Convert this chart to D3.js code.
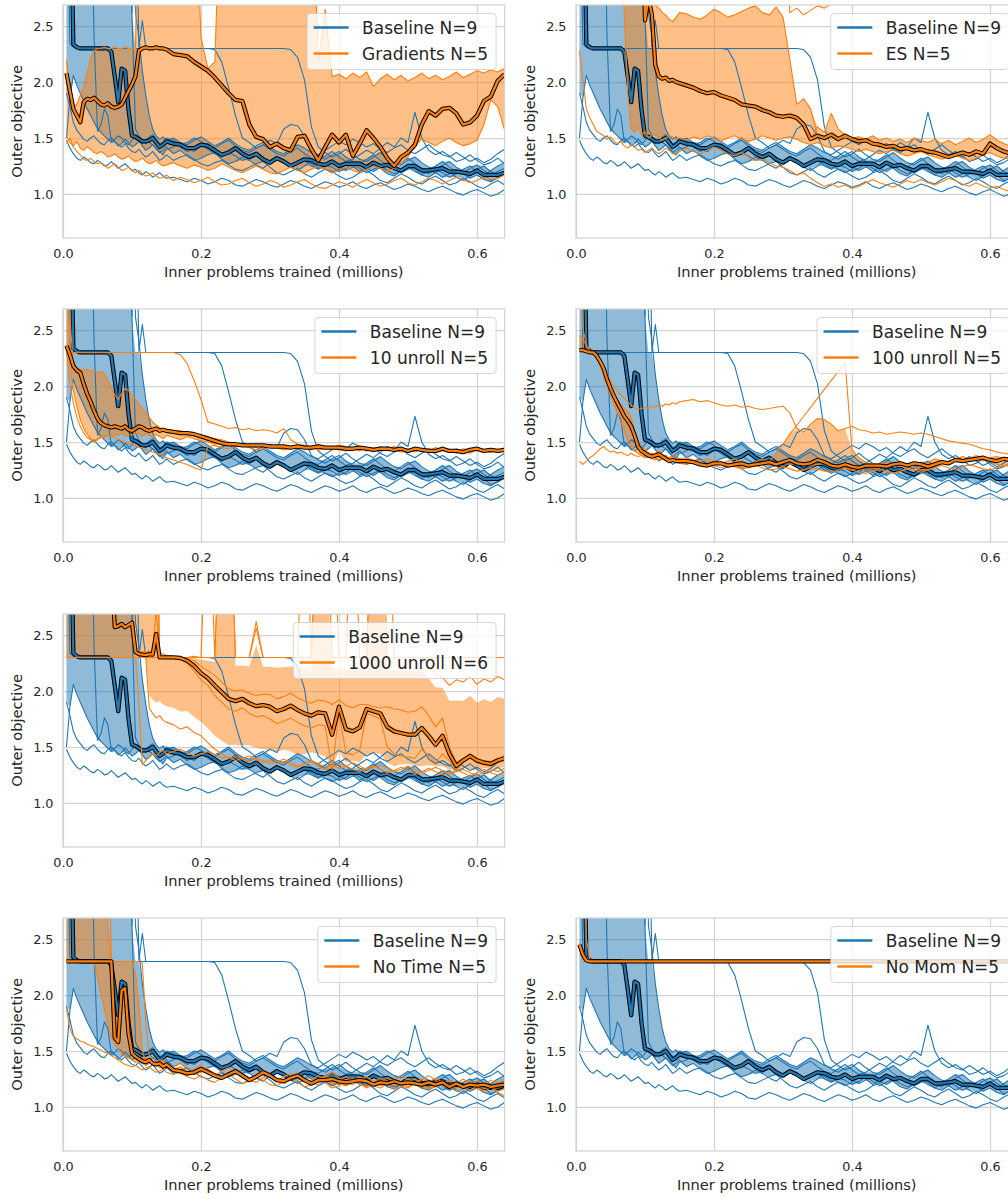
<!DOCTYPE html>
<html>
<head>
<meta charset="utf-8">
<script src="https://cdn.jsdelivr.net/npm/d3@7"></script>
<style>
  body { margin: 0; background: #fff; }
  svg text { font-family: "DejaVu Sans", sans-serif; }
</style>
</head>
<body>
<div id="chart"></div>
<script>
// sample positions, inner problems trained (millions)
const steps = [
  0.005,0.01,0.015,0.02,0.025,0.03,0.035,0.04,0.045,0.05,
  0.055,0.06,0.065,0.07,0.075,0.08,0.085,0.09,0.095,0.1,
  0.105,0.11,0.115,0.12,0.125,0.13,0.135,0.14,0.145,0.15,
  0.16,0.17,0.18,0.19,0.2,
  0.21,0.22,0.23,0.24,0.25,0.26,0.27,0.28,0.29,0.3,
  0.31,0.32,0.33,0.34,0.35,0.36,0.37,0.38,0.39,0.4,
  0.41,0.42,0.43,0.44,0.45,0.46,0.47,0.48,0.49,0.5,
  0.51,0.52,0.53,0.54,0.55,0.56,0.57,0.58,0.59,0.6,
  0.61,0.62,0.63,0.64
];

// outer objective per run (values of 4 are off the top of the plot)
const baseline = [
  [1.90,1.78,1.64,1.57,1.53,1.49,1.47,1.50,1.52,1.48,
   1.45,1.44,1.48,1.50,1.47,1.43,1.45,1.49,1.46,1.42,
   1.44,1.47,1.43,1.39,1.41,1.44,1.40,1.37,1.39,1.42,
   1.36,1.39,1.34,1.30,1.32,
   1.35,1.37,1.31,1.27,1.29,1.33,1.30,1.26,1.23,1.28,
   1.31,1.29,1.24,1.21,1.25,1.30,1.27,1.22,1.19,1.22,
   1.27,1.25,1.20,1.24,1.28,1.23,1.18,1.16,1.21,1.25,
   1.22,1.17,1.15,1.19,1.23,1.20,1.15,1.12,1.16,1.21,
   1.17,1.12,1.14,1.18],
  [1.48,1.41,1.36,1.32,1.30,1.33,1.31,1.28,1.27,1.30,
   1.28,1.25,1.26,1.29,1.26,1.23,1.25,1.27,1.24,1.21,
   1.22,1.19,1.17,1.20,1.18,1.15,1.17,1.19,1.16,1.14,
   1.15,1.13,1.11,1.14,1.12,
   1.09,1.11,1.14,1.12,1.08,1.07,1.10,1.13,1.11,1.08,
   1.06,1.09,1.12,1.10,1.07,1.05,1.08,1.11,1.09,1.06,
   1.08,1.11,1.07,1.05,1.08,1.10,1.07,1.04,1.06,1.09,
   1.07,1.04,1.02,1.05,1.07,1.04,1.01,0.99,1.02,1.04,
   1.01,0.98,1.00,1.04],
  [1.50,1.86,2.06,1.97,1.90,1.83,1.76,1.70,1.64,1.59,
   1.55,1.52,1.49,1.46,1.47,1.44,1.42,1.45,1.41,1.38,
   1.37,1.40,1.36,1.33,1.35,1.38,1.34,1.30,1.32,1.35,
   1.30,1.33,1.35,1.31,1.27,
   1.25,1.28,1.30,1.26,1.22,1.21,1.24,1.27,1.29,1.24,
   1.19,1.17,1.20,1.23,1.18,1.15,1.19,1.22,1.20,1.16,
   1.13,1.15,1.19,1.21,1.17,1.12,1.10,1.14,1.18,1.15,
   1.11,1.09,1.13,1.16,1.12,1.08,1.10,1.14,1.11,1.07,
   1.05,1.09,1.12,1.08],
  [4,2.34,2.31,2.30,2.30,2.30,2.30,2.30,2.30,2.30,
   2.30,2.30,2.30,2.30,2.30,2.30,2.30,2.30,2.30,2.30,
   2.30,2.30,2.30,2.30,2.30,2.30,2.30,2.30,2.30,2.30,
   2.30,2.30,2.30,2.30,2.30,
   2.30,2.29,2.18,1.95,1.70,1.50,1.46,1.41,1.44,1.48,
   1.45,1.58,1.62,1.61,1.52,1.38,1.34,1.31,1.35,1.38,
   1.33,1.29,1.27,1.31,1.35,1.30,1.26,1.24,1.28,1.32,
   1.27,1.23,1.21,1.25,1.29,1.24,1.20,1.19,1.23,1.26,
   1.21,1.17,1.20,1.23],
  [4,4,4,4,4,4,4,4,4,4,
   4,4,4,4,4,4,4,4,4,2.62,
   4,2.31,2.55,2.30,2.30,2.30,2.30,2.30,2.30,2.30,
   2.30,2.30,2.30,2.30,2.30,
   2.30,2.30,2.30,2.30,2.30,2.30,2.30,2.30,2.30,2.30,
   2.30,2.30,2.29,2.22,2.02,1.60,1.42,1.37,1.33,1.36,
   1.40,1.35,1.31,1.29,1.33,1.37,1.32,1.28,1.26,1.30,
   1.33,1.28,1.24,1.22,1.26,1.29,1.24,1.20,1.18,1.22,
   1.25,1.20,1.17,1.19],
  [4,4,2.34,2.31,2.30,2.30,2.30,2.30,2.30,2.30,
   2.30,2.30,2.30,2.27,2.05,1.82,2.12,2.10,1.75,1.52,
   1.49,1.48,1.47,1.48,1.46,1.44,1.41,1.38,1.35,1.40,
   1.42,1.46,1.41,1.38,1.43,
   1.45,1.39,1.35,1.37,1.41,1.36,1.31,1.34,1.30,1.27,
   1.31,1.28,1.24,1.27,1.30,1.25,1.22,1.26,1.24,1.20,
   1.23,1.27,1.23,1.19,1.22,1.25,1.21,1.18,1.21,1.24,
   1.20,1.17,1.21,1.19,1.15,1.18,1.22,1.18,1.14,1.17,
   1.13,1.11,1.15,1.18],
  [4,4,4,4,4,4,4,4,2.40,1.56,
   1.62,1.76,1.70,1.47,1.49,1.52,1.50,1.46,1.44,1.48,
   1.51,1.49,1.45,1.47,1.51,1.53,1.49,1.45,1.46,1.50,
   1.48,1.44,1.46,1.50,1.47,
   1.43,1.41,1.45,1.48,1.43,1.39,1.37,1.41,1.44,1.40,
   1.36,1.34,1.38,1.41,1.36,1.32,1.30,1.34,1.38,1.33,
   1.29,1.31,1.35,1.39,1.36,1.41,1.46,1.42,1.50,1.46,
   1.73,1.50,1.39,1.35,1.38,1.34,1.29,1.31,1.35,1.30,
   1.26,1.28,1.32,1.27],
  [4,4,4,4,4,4,4,4,4,4,
   4,4,4,4,4,4,4,4,4,2.60,
   1.58,1.52,1.47,1.45,1.48,1.50,1.46,1.42,1.44,1.47,
   1.45,1.42,1.38,1.41,1.44,
   1.40,1.36,1.33,1.37,1.34,1.30,1.33,1.36,1.31,1.28,
   1.32,1.29,1.25,1.28,1.31,1.27,1.23,1.26,1.29,1.25,
   1.21,1.24,1.27,1.23,1.20,1.24,1.27,1.23,1.19,1.22,
   1.25,1.21,1.18,1.22,1.19,1.15,1.18,1.22,1.25,1.20,
   1.17,1.21,1.25,1.28],
  [4,4,4,4,4,4,4,4,4,4,
   4,4,4,4,4,4,4,4,4,4,
   2.62,2.40,2.10,1.88,1.70,1.58,1.52,1.49,1.51,1.47,
   1.50,1.46,1.44,1.48,1.51,
   1.47,1.43,1.46,1.50,1.45,1.41,1.39,1.43,1.46,1.42,
   1.38,1.36,1.40,1.44,1.41,1.37,1.35,1.39,1.43,1.47,
   1.44,1.49,1.46,1.42,1.45,1.40,1.37,1.41,1.44,1.39,
   1.36,1.40,1.44,1.39,1.35,1.33,1.37,1.33,1.29,1.32,
   1.28,1.31,1.36,1.40]
];

const gradients = [
  [1.45,1.50,1.42,1.38,1.35,1.31,1.30,1.32,1.29,1.27,
   1.28,1.26,1.23,1.25,1.27,1.24,1.21,1.22,1.24,1.21,
   1.19,1.21,1.18,1.16,1.17,1.19,1.16,1.14,1.15,1.17,
   1.12,1.15,1.13,1.10,1.12,
   1.15,1.11,1.08,1.09,1.12,1.14,1.10,1.07,1.09,1.12,
   1.10,1.06,1.08,1.11,1.13,1.09,1.06,1.05,1.08,1.11,
   1.09,1.06,1.10,1.13,1.10,1.07,1.09,1.12,1.14,1.10,
   1.08,1.11,1.14,1.12,1.09,1.12,1.15,1.13,1.10,1.12,
   1.15,1.13,1.14,1.17],
  [1.52,1.46,1.43,1.47,1.41,1.39,1.42,1.40,1.37,1.36,
   1.38,1.36,1.33,1.34,1.36,1.33,1.31,1.32,1.34,1.31,
   1.29,1.30,1.32,1.29,1.27,1.28,1.30,1.27,1.25,1.26,
   1.28,1.25,1.23,1.26,1.24,
   1.21,1.23,1.27,1.24,1.21,1.19,1.22,1.25,1.22,1.19,
   1.18,1.21,1.24,1.21,1.19,1.22,1.25,1.22,1.19,1.21,
   1.24,1.21,1.19,1.22,1.25,1.23,1.20,1.23,1.28,1.33,
   1.44,1.49,1.46,1.43,1.47,1.50,1.46,1.43,1.45,1.48,
   1.62,1.84,1.78,1.57],
  [2.08,1.98,1.80,1.70,1.64,1.82,1.85,1.84,1.86,1.83,
   1.80,1.79,1.81,1.78,1.77,1.78,1.80,1.86,1.92,1.98,
   2.05,2.28,2.30,2.31,2.30,2.30,2.31,2.30,2.30,2.29,
   2.25,2.24,2.23,2.18,2.14,
   2.10,2.04,1.97,1.90,1.84,1.83,1.62,1.51,1.49,1.42,
   1.45,1.41,1.39,1.51,1.52,1.40,1.30,1.42,1.53,1.46,
   1.53,1.34,1.45,1.57,1.50,1.42,1.32,1.25,1.33,1.37,
   1.41,1.62,1.74,1.70,1.76,1.77,1.72,1.62,1.64,1.70,
   1.83,1.87,2.01,2.07],
  [2.20,1.92,1.76,1.80,1.88,1.95,2.08,2.20,2.28,2.30,
   2.30,2.31,2.30,2.30,2.31,2.30,2.30,2.31,2.30,2.30,
   2.30,4,4,4,4,4,4,4,4,4,
   4,4,4,4,2.40,
   2.12,2.18,4,4,4,4,4,4,4,4,
   4,4,4,4,4,4,2.18,2.65,2.05,2.07,
   2.03,2.08,2.04,2.09,1.96,2.03,2.07,2.02,2.06,2.01,
   2.04,2.08,2.03,2.06,2.02,2.05,2.09,2.04,2.07,2.10,
   2.08,2.11,2.09,2.12],
  [4,4,4,4,4,4,4,4,4,4,
   4,4,4,4,4,4,4,4,4,4,
   4,4,4,4,4,4,4,4,4,4,
   4,4,4,4,4,
   4,4,4,4,4,4,4,4,4,4,
   4,4,4,4,4,4,4,4,4,4,
   4,4,4,4,4,4,4,4,4,4,
   4,4,4,4,4,4,4,4,4,4,
   4,4,4,4]
];

const esRuns = [
  [2.28,2.02,1.76,1.68,1.62,1.56,1.54,1.52,1.49,1.51,
   1.47,1.45,1.47,1.43,1.41,1.44,1.42,1.39,1.40,1.37,
   1.39,1.41,1.38,1.36,1.38,1.41,1.39,1.36,1.35,1.38,
   1.41,1.38,1.36,1.39,1.42,
   1.39,1.36,1.34,1.37,1.33,1.30,1.31,1.28,1.25,1.24,
   1.21,1.17,1.19,1.14,1.10,1.07,1.09,1.06,1.08,1.05,
   1.07,1.10,1.13,1.10,1.08,1.06,1.09,1.12,1.10,1.13,
   1.10,1.08,1.11,1.14,1.12,1.09,1.07,1.10,1.07,1.05,
   1.07,1.04,1.02,1.03],
  [4,4,4,4,4,4,4,4,4,4,
   4,4,4,2.60,1.90,1.58,1.55,1.60,1.52,1.56,
   1.50,1.52,1.53,1.50,1.48,1.50,1.52,1.51,1.49,1.50,
   1.48,1.51,1.49,1.52,1.50,
   1.47,1.50,1.52,1.49,1.47,1.49,1.52,1.50,1.48,1.50,
   1.51,1.49,1.46,1.44,1.46,1.43,1.41,1.43,1.42,1.40,
   1.38,1.40,1.38,1.36,1.38,1.39,1.36,1.34,1.36,1.38,
   1.35,1.33,1.31,1.33,1.35,1.32,1.30,1.32,1.35,1.37,
   1.34,1.32,1.31,1.34],
  [4,4,4,4,4,4,4,4,4,4,
   4,4,4,4,4,4,4,4,4,2.55,
   2.75,2.60,2.15,2.05,2.03,2.04,2.01,2.02,2.00,1.99,
   1.97,1.95,1.92,1.90,1.91,
   1.88,1.86,1.84,1.80,1.79,1.78,1.75,1.73,1.70,1.69,
   1.70,1.68,1.62,1.49,1.60,1.55,1.72,1.58,1.53,1.49,
   1.47,1.48,1.45,1.44,1.42,1.43,1.40,1.41,1.39,1.40,
   1.38,1.37,1.35,1.33,1.34,1.37,1.35,1.38,1.36,1.45,
   1.41,1.38,1.36,1.35],
  [4,4,4,4,4,4,4,4,4,4,
   4,4,4,4,4,4,4,4,4,4,
   4,4,2.69,2.66,2.62,2.60,2.56,2.54,2.58,2.62,
   2.61,2.58,2.56,2.60,2.65,
   2.62,2.58,2.60,2.63,2.66,2.68,2.62,2.60,2.67,2.58,
   2.20,1.80,1.85,1.76,1.52,1.50,1.53,1.49,1.52,1.50,
   1.51,1.49,1.52,1.48,1.50,1.47,1.49,1.46,1.50,1.48,
   1.46,1.49,1.45,1.48,1.44,1.47,1.50,1.46,1.49,1.53,
   1.48,1.45,1.43,1.41],
  [4,4,4,4,4,4,4,4,4,4,
   4,4,4,4,4,4,4,4,4,4,
   4,4,4,4,4,4,4,4,4,4,
   4,4,4,4,4,
   4,4,4,4,4,4,4,4,4,4,
   2.62,2.66,2.60,2.64,2.68,2.66,2.70,4,4,4,
   4,4,4,4,4,4,4,4,4,4,
   4,4,4,4,4,4,4,4,4,4,
   4,4,4,4]
];

const unroll10 = [
  [2.30,2.18,1.96,1.82,1.70,1.62,1.57,1.53,1.50,1.52,
   1.54,1.55,1.56,1.55,1.54,1.52,1.51,1.50,1.49,1.47,
   1.47,1.45,1.45,1.43,1.42,1.41,1.40,1.39,1.38,1.36,
   1.34,1.32,1.30,1.27,1.25,
   1.46,1.47,1.45,1.44,1.46,1.47,1.45,1.43,1.44,1.46,
   1.45,1.43,1.44,1.46,1.47,1.45,1.43,1.44,1.45,1.43,
   1.42,1.44,1.46,1.44,1.42,1.43,1.45,1.43,1.41,1.42,
   1.44,1.43,1.41,1.42,1.44,1.42,1.40,1.41,1.43,1.44,
   1.42,1.41,1.43,1.42],
  [2.33,2.02,1.85,1.72,1.64,1.58,1.54,1.52,1.50,1.53,
   1.55,1.54,1.56,1.55,1.57,1.56,1.58,1.55,1.57,1.56,
   1.58,1.57,1.55,1.58,1.56,1.54,1.57,1.55,1.53,1.56,
   1.54,1.52,1.55,1.53,1.51,
   1.50,1.48,1.49,1.47,1.48,1.46,1.47,1.45,1.48,1.46,
   1.45,1.47,1.44,1.46,1.45,1.43,1.46,1.44,1.45,1.43,
   1.46,1.44,1.42,1.45,1.43,1.46,1.44,1.42,1.45,1.43,
   1.41,1.44,1.42,1.45,1.43,1.41,1.44,1.42,1.40,1.43,
   1.41,1.44,1.42,1.43],
  [4,2.62,2.18,2.14,2.12,2.02,1.93,1.86,1.78,1.71,
   1.67,1.65,1.64,1.63,1.64,1.63,1.62,1.64,1.61,1.60,
   1.62,1.64,1.63,1.61,1.60,1.61,1.62,1.60,1.61,1.61,
   1.60,1.60,1.59,1.57,1.55,
   1.53,1.51,1.49,1.48,1.47,1.46,1.46,1.47,1.46,1.45,
   1.46,1.45,1.46,1.44,1.45,1.46,1.44,1.45,1.44,1.45,
   1.44,1.45,1.43,1.44,1.45,1.43,1.44,1.43,1.44,1.42,
   1.43,1.44,1.42,1.43,1.42,1.43,1.42,1.41,1.43,1.42,
   1.42,1.43,1.41,1.42],
  [2.36,2.28,2.20,2.16,2.15,2.14,2.15,2.13,2.14,2.12,
   2.13,2.11,2.05,1.98,1.92,1.88,1.93,1.98,1.96,1.92,
   1.88,1.84,1.80,1.76,1.72,1.68,1.65,1.63,1.61,1.60,
   1.59,1.58,1.58,1.57,1.56,
   1.55,1.53,1.52,1.50,1.49,1.48,1.47,1.48,1.47,1.46,
   1.47,1.46,1.45,1.47,1.45,1.44,1.46,1.45,1.43,1.46,
   1.44,1.43,1.45,1.44,1.42,1.44,1.43,1.45,1.43,1.42,
   1.44,1.42,1.43,1.41,1.44,1.42,1.43,1.41,1.42,1.44,
   1.42,1.41,1.43,1.44],
  [4,2.31,2.30,2.30,2.30,2.30,2.30,2.30,2.30,2.30,
   2.30,2.30,2.30,2.30,2.30,2.30,2.30,2.30,2.30,2.30,
   2.30,2.30,2.30,2.30,2.30,2.30,2.30,2.30,2.30,2.30,
   2.30,2.28,2.20,2.05,1.88,
   1.68,1.66,1.64,1.62,1.63,1.61,1.62,1.60,1.61,1.60,
   1.58,1.62,1.52,1.48,1.47,1.46,1.48,1.46,1.45,1.47,
   1.46,1.44,1.46,1.45,1.43,1.45,1.44,1.46,1.44,1.43,
   1.45,1.43,1.44,1.42,1.45,1.43,1.42,1.44,1.43,1.45,
   1.43,1.44,1.42,1.45]
];

const unroll100 = [
  [1.33,1.30,1.33,1.36,1.38,1.41,1.44,1.46,1.43,1.41,
   1.42,1.40,1.41,1.39,1.38,1.40,1.38,1.37,1.38,1.36,
   1.37,1.35,1.34,1.36,1.35,1.33,1.32,1.34,1.33,1.31,
   1.30,1.32,1.30,1.28,1.29,
   1.27,1.29,1.28,1.26,1.27,1.29,1.27,1.25,1.26,1.28,
   1.26,1.24,1.25,1.27,1.26,1.24,1.23,1.25,1.27,1.25,
   1.23,1.22,1.24,1.26,1.24,1.22,1.24,1.26,1.25,1.23,
   1.25,1.27,1.29,1.27,1.25,1.28,1.30,1.28,1.26,1.25,
   1.27,1.29,1.28,1.29],
  [2.32,2.31,2.30,2.30,2.30,2.29,2.24,2.16,2.06,1.98,
   1.92,1.87,1.83,1.80,1.77,1.72,1.60,1.50,1.45,1.43,
   1.41,1.39,1.40,1.42,1.39,1.37,1.36,1.38,1.37,1.35,
   1.36,1.34,1.33,1.35,1.33,
   1.31,1.33,1.35,1.32,1.30,1.32,1.35,1.33,1.30,1.32,
   1.34,1.31,1.29,1.31,1.34,1.32,1.29,1.28,1.30,1.28,
   1.27,1.29,1.31,1.29,1.27,1.29,1.31,1.30,1.32,1.30,
   1.32,1.35,1.33,1.31,1.34,1.37,1.35,1.38,1.36,1.34,
   1.33,1.36,1.34,1.35],
  [2.32,2.32,2.31,2.31,2.30,2.28,2.24,2.17,2.08,2.00,
   1.91,1.85,1.79,1.73,1.69,1.64,1.56,1.46,1.42,1.40,
   1.38,1.37,1.38,1.39,1.37,1.35,1.33,1.34,1.32,1.31,
   1.33,1.31,1.30,1.29,1.30,
   1.31,1.29,1.30,1.31,1.29,1.30,1.31,1.29,1.30,1.31,
   1.30,1.31,1.30,1.29,1.30,1.31,1.29,1.28,1.27,1.25,
   1.26,1.25,1.26,1.27,1.28,1.30,1.31,1.29,1.27,1.25,
   1.26,1.28,1.31,1.33,1.34,1.33,1.34,1.35,1.36,1.33,
   1.30,1.29,1.30,1.31],
  [4,2.52,2.36,2.30,2.29,2.27,2.22,2.16,2.10,2.05,
   2.00,1.96,1.92,1.89,1.86,1.83,1.80,1.79,1.80,1.81,
   1.80,1.82,1.81,1.83,1.82,1.84,1.83,1.85,1.84,1.86,
   1.87,1.88,1.86,1.87,1.85,
   1.83,1.82,1.83,1.81,1.82,1.80,1.79,1.80,1.81,1.82,
   1.76,1.62,1.59,1.66,1.71,1.70,1.66,1.60,1.62,1.64,
   1.61,1.60,1.58,1.59,1.57,1.58,1.59,1.58,1.57,1.58,
   1.57,1.55,1.53,1.51,1.50,1.49,1.48,1.46,1.44,1.43,
   1.41,1.40,1.39,1.38],
  [2.45,2.42,2.36,2.32,2.30,2.25,2.18,2.10,2.00,1.92,
   1.84,1.76,1.68,1.60,1.52,1.46,1.42,1.40,1.38,1.37,
   1.36,1.37,1.35,1.34,1.36,1.35,1.33,1.34,1.32,1.33,
   1.31,1.32,1.30,1.29,1.31,
   1.30,1.28,1.29,1.27,1.28,1.29,1.30,1.32,1.40,1.48,
   1.57,1.65,1.73,1.81,1.89,1.97,2.05,2.13,2.21,1.43,
   1.36,1.32,1.29,1.30,1.32,1.30,1.28,1.29,1.31,1.30,
   1.28,1.30,1.32,1.31,1.33,1.32,1.34,1.35,1.33,1.36,
   1.37,1.35,1.37,1.39]
];

const unroll1000 = [
  [2.30,2.30,2.30,2.30,2.30,2.30,2.30,2.30,2.30,2.30,
   2.30,2.30,2.30,2.30,2.30,2.30,2.30,2.30,2.30,2.30,
   2.30,1.90,1.34,1.38,1.41,1.44,1.42,1.45,1.47,1.44,
   1.46,1.48,1.45,1.42,1.44,
   1.46,1.43,1.40,1.41,1.38,1.40,1.42,1.39,1.36,1.38,
   1.35,1.37,1.34,1.32,1.35,1.37,1.33,1.30,1.32,1.35,
   1.33,1.30,1.28,1.31,1.33,1.30,1.27,1.29,1.32,1.29,
   1.26,1.28,1.31,1.28,1.25,1.27,1.30,1.27,1.24,1.27,
   1.30,1.27,1.25,1.28],
  [2.30,2.30,2.30,2.30,2.30,2.30,2.30,2.30,2.30,2.30,
   2.30,2.30,2.30,2.30,2.30,2.30,2.30,2.30,2.30,2.30,
   2.30,2.30,2.30,2.30,1.85,1.80,1.76,1.78,1.74,1.72,
   1.70,1.66,1.68,1.63,1.60,
   1.54,1.48,1.44,1.40,1.42,1.39,1.37,1.40,1.38,1.35,
   1.37,1.39,1.36,1.33,1.35,1.38,1.35,1.32,1.34,1.31,
   1.33,1.36,1.33,1.30,1.32,1.34,1.31,1.28,1.30,1.33,
   1.30,1.27,1.29,1.32,1.29,1.26,1.28,1.30,1.27,1.25,
   1.27,1.30,1.28,1.31],
  [4,4,4,4,4,4,4,4,4,4,
   4,4,4,4,2.84,2.86,2.90,2.84,2.88,2.92,
   2.40,2.36,2.35,2.34,2.36,2.35,2.72,2.34,2.33,2.32,
   2.31,2.29,2.25,2.18,2.10,
   2.05,1.96,1.90,1.84,1.82,1.85,1.80,1.77,1.78,1.75,
   1.71,1.73,1.76,1.72,1.69,1.67,1.70,1.69,1.30,1.80,
   1.45,1.43,1.47,1.80,1.78,1.75,1.50,1.44,1.42,1.41,
   1.40,1.48,1.42,1.36,1.44,1.38,1.30,1.36,1.40,1.36,
   1.34,1.33,1.36,1.38],
  [4,4,4,4,4,4,4,4,4,4,
   4,4,4,4,4,4,4,4,4,4,
   4,4,4,4,4,4,4,2.31,2.30,2.30,
   2.30,2.30,2.29,2.27,2.22,
   2.18,2.14,2.08,2.02,2.00,2.01,1.98,1.96,1.97,1.97,
   1.93,1.95,1.98,1.94,1.91,1.89,1.92,1.91,1.88,1.92,
   1.87,1.85,1.88,1.88,1.86,1.85,1.86,1.84,1.83,1.81,
   1.82,1.86,1.78,1.68,1.76,1.50,1.36,1.40,1.44,1.40,
   1.38,1.37,1.40,1.42],
  [2.30,2.30,2.30,2.30,2.30,2.30,2.30,2.30,2.30,2.30,
   2.30,2.30,2.30,2.30,2.30,2.30,2.30,2.30,2.30,2.30,
   2.30,2.30,2.30,2.30,2.30,2.30,2.30,2.30,2.30,2.30,
   2.30,2.30,2.30,2.30,2.30,
   2.30,2.30,4,4,2.30,2.30,2.30,2.56,2.30,2.30,
   2.30,2.30,2.30,2.30,2.30,2.30,4,4,2.30,2.30,
   2.30,2.30,2.30,2.30,4,4,2.30,2.30,2.30,2.30,
   2.30,2.30,2.30,2.30,2.30,2.30,2.30,2.30,2.30,2.30,
   2.30,2.30,2.30,2.30],
  [4,4,4,4,4,4,4,4,4,4,
   4,4,4,4,4,4,4,4,4,4,
   4,4,4,4,4,4,4,2.30,2.30,2.31,
   2.30,2.30,2.30,2.31,2.30,
   4,2.30,4,4,2.30,2.30,2.30,2.62,2.30,2.30,
   2.30,2.30,2.30,2.30,4,2.30,4,4,4,2.30,
   2.30,4,2.30,2.30,4,4,4,2.30,2.30,2.30,
   2.30,2.30,2.22,2.15,2.12,2.05,2.10,2.08,2.13,2.06,
   2.11,2.08,2.13,2.10]
];

const noTime = [
  [1.88,1.70,1.63,1.61,1.59,1.58,1.56,1.55,1.54,1.52,
   1.51,1.49,1.48,1.46,1.44,1.42,1.40,1.38,1.37,1.36,
   1.37,1.35,1.33,1.35,1.36,1.33,1.31,1.32,1.34,1.31,
   1.29,1.31,1.27,1.25,1.28,
   1.24,1.22,1.26,1.29,1.25,1.21,1.23,1.27,1.24,1.20,
   1.19,1.23,1.26,1.22,1.18,1.20,1.25,1.22,1.17,1.19,
   1.23,1.26,1.21,1.17,1.20,1.24,1.21,1.16,1.18,1.22,
   1.25,1.20,1.16,1.18,1.22,1.18,1.14,1.16,1.20,1.17,
   1.14,1.17,1.13,1.10],
  [2.30,2.30,2.30,2.30,2.30,2.30,2.30,2.30,2.30,2.16,
   2.02,1.88,1.74,1.62,1.56,1.52,1.48,1.46,1.44,1.42,
   1.40,1.42,1.39,1.37,1.39,1.41,1.38,1.35,1.36,1.38,
   1.33,1.36,1.32,1.29,1.31,
   1.34,1.30,1.26,1.28,1.32,1.28,1.24,1.27,1.31,1.27,
   1.23,1.21,1.25,1.29,1.25,1.21,1.20,1.24,1.27,1.23,
   1.19,1.22,1.26,1.23,1.19,1.17,1.21,1.25,1.28,1.24,
   1.20,1.18,1.22,1.26,1.22,1.18,1.21,1.25,1.21,1.17,
   1.20,1.24,1.21,1.25],
  [4,4,4,4,4,4,4,4,4,4,
   4,4,4,2.30,1.62,1.58,2.04,2.06,1.66,1.48,
   1.45,1.43,1.41,1.44,1.42,1.39,1.38,1.40,1.42,1.39,
   1.35,1.32,1.30,1.34,1.37,
   1.33,1.29,1.27,1.31,1.34,1.30,1.26,1.28,1.32,1.29,
   1.25,1.23,1.27,1.30,1.26,1.22,1.24,1.28,1.25,1.21,
   1.19,1.23,1.27,1.24,1.20,1.22,1.26,1.23,1.19,1.17,
   1.21,1.25,1.22,1.18,1.20,1.24,1.21,1.17,1.19,1.23,
   1.20,1.17,1.19,1.22],
  [4,4,4,4,4,4,4,4,4,4,
   4,4,2.60,2.31,2.30,2.30,2.30,2.30,2.30,2.30,
   2.30,2.30,2.28,1.75,1.46,1.43,1.41,1.42,1.40,1.38,
   1.36,1.39,1.35,1.32,1.34,
   1.31,1.28,1.32,1.35,1.30,1.27,1.25,1.29,1.33,1.28,
   1.24,1.27,1.30,1.26,1.22,1.24,1.28,1.24,1.20,1.23,
   1.27,1.23,1.20,1.18,1.22,1.26,1.22,1.19,1.21,1.25,
   1.21,1.18,1.16,1.20,1.24,1.20,1.17,1.19,1.23,1.20,
   1.16,1.19,1.22,1.20],
  [2.30,2.30,2.30,2.30,2.30,2.30,2.30,2.30,2.30,2.30,
   2.30,2.30,2.30,2.30,2.30,2.30,2.30,2.30,2.30,2.30,
   2.20,1.90,1.50,1.40,1.42,1.39,1.37,1.39,1.36,1.35,
   1.33,1.30,1.28,1.31,1.34,
   1.30,1.27,1.25,1.29,1.32,1.28,1.24,1.22,1.26,1.29,
   1.25,1.22,1.24,1.28,1.24,1.20,1.23,1.27,1.31,1.26,
   1.22,1.20,1.24,1.27,1.23,1.19,1.21,1.25,1.22,1.18,
   1.21,1.25,1.28,1.24,1.19,1.17,1.21,1.18,1.15,1.19,
   1.22,1.18,1.14,1.16]
];

const noMom = [
  [2.47,2.36,2.31,2.3,2.3,2.3,2.3,2.3,2.3,2.3,
   2.3,2.3,2.3,2.3,2.3,2.3,2.3,2.3,2.3,2.3,
   2.3,2.3,2.3,2.3,2.3,2.3,2.3,2.3,2.3,2.3,
   2.3,2.3,2.3,2.3,2.3,
   2.3,2.3,2.3,2.3,2.3,2.3,2.3,2.3,2.3,2.3,
   2.3,2.3,2.3,2.3,2.3,2.3,2.3,2.3,2.3,2.3,
   2.3,2.3,2.3,2.3,2.3,2.3,2.3,2.3,2.3,2.3,
   2.3,2.3,2.3,2.3,2.3,2.3,2.3,2.3,2.3,2.3,
   2.3,2.3,2.3,2.3],
  [2.44,2.40,2.32,2.3,2.3,2.3,2.3,2.3,2.3,2.3,
   2.3,2.3,2.3,2.3,2.3,2.3,2.3,2.3,2.3,2.3,
   2.3,2.3,2.3,2.3,2.3,2.3,2.3,2.3,2.3,2.3,
   2.3,2.3,2.3,2.3,2.3,
   2.3,2.3,2.3,2.3,2.3,2.3,2.3,2.3,2.3,2.3,
   2.3,2.3,2.3,2.3,2.3,2.3,2.3,2.3,2.3,2.3,
   2.3,2.3,2.3,2.3,2.3,2.3,2.3,2.3,2.3,2.3,
   2.3,2.3,2.3,2.3,2.3,2.3,2.3,2.3,2.3,2.3,
   2.3,2.3,2.3,2.3],
  [2.42,2.31,2.3,2.3,2.3,2.3,2.3,2.3,2.3,2.3,
   2.3,2.3,2.3,2.3,2.3,2.3,2.3,2.3,2.3,2.3,
   2.3,2.3,2.3,2.3,2.3,2.3,2.3,2.3,2.3,2.3,
   2.3,2.3,2.3,2.3,2.3,
   2.3,2.3,2.3,2.3,2.3,2.3,2.3,2.3,2.3,2.3,
   2.3,2.3,2.3,2.3,2.3,2.3,2.3,2.3,2.3,2.3,
   2.3,2.3,2.3,2.3,2.3,2.3,2.3,2.3,2.3,2.3,
   2.3,2.3,2.3,2.3,2.3,2.3,2.3,2.3,2.3,2.3,
   2.3,2.3,2.3,2.3],
  [4,4,2.50,2.32,2.3,2.3,2.3,2.3,2.3,2.3,
   2.3,2.3,2.3,2.3,2.3,2.3,2.3,2.3,2.3,2.3,
   2.3,2.3,2.3,2.3,2.3,2.3,2.3,2.3,2.3,2.3,
   2.3,2.3,2.3,2.3,2.3,
   2.3,2.3,2.3,2.3,2.3,2.3,2.3,2.3,2.3,2.3,
   2.3,2.3,2.3,2.3,2.3,2.3,2.3,2.3,2.3,2.3,
   2.3,2.3,2.3,2.3,2.3,2.3,2.3,2.3,2.3,2.3,
   2.3,2.3,2.3,2.3,2.3,2.3,2.3,2.3,2.3,2.3,
   2.3,2.3,2.3,2.3],
  [2.45,2.33,2.3,2.3,2.3,2.3,2.3,2.3,2.3,2.3,
   2.3,2.3,2.3,2.3,2.3,2.3,2.3,2.3,2.3,2.3,
   2.3,2.3,2.3,2.3,2.3,2.3,2.3,2.3,2.3,2.3,
   2.3,2.3,2.3,2.3,2.3,
   2.3,2.3,2.3,2.3,2.3,2.3,2.3,2.3,2.3,2.3,
   2.3,2.3,2.3,2.3,2.3,2.3,2.3,2.3,2.3,2.3,
   2.3,2.3,2.3,2.3,2.3,2.3,2.3,2.3,2.3,2.3,
   2.3,2.3,2.3,2.3,2.3,2.3,2.3,2.3,2.3,2.3,
   2.3,2.3,2.3,2.3]
];

const panelNames = ['Gradients', 'ES', '10 unroll', '100 unroll', '1000 unroll', 'No Time', 'No Mom'];
const panelRuns = [gradients, esRuns, unroll10, unroll100, unroll1000, noTime, noMom];
const panelCells = [[0, 0], [0, 1], [1, 0], [1, 1], [2, 0], [3, 0], [3, 1]]; // [row, col]
const xTicks = [0, 0.2, 0.4, 0.6];
const yTicks = [1.0, 1.5, 2.0, 2.5];

// layout
const W = 1008, H = 1199;
const colX = [63, 576];
const rowY = [5, 309, 614, 918];
const pw = 441.6, ph = 233;
const blue = '#1f77b4', orange = '#ff7f0e';
const gridColor = '#d3d3d3', textColor = '#262626';

const x = d3.scaleLinear().domain([0, 0.64]).range([0, pw]);
const y = d3.scaleLinear().domain([0.607, 2.688]).range([ph, 0]);

const line = d3.line().x(d => x(d[0])).y(d => y(d[1]));
const area = d3.area().x(d => x(d.s)).y0(d => y(d.lo)).y1(d => y(d.hi));

// median and inter-quartile band across runs at each step
function stats(runs) {
  return steps.map((s, i) => {
    const v = runs.map(r => r[i]).filter(d => d != null).sort(d3.ascending);
    return { s, lo: d3.quantileSorted(v, 0.25), mid: d3.quantileSorted(v, 0.5), hi: d3.quantileSorted(v, 0.75) };
  });
}

const svg = d3.select('#chart').append('svg')
  .attr('width', W)
  .attr('height', H);

panelNames.forEach((name, k) => {
  const [r, c] = panelCells[k];
  const g = svg.append('g').attr('transform', `translate(${colX[c]},${rowY[r]})`);

  g.append('clipPath').attr('id', 'clip' + k)
    .append('rect').attr('width', pw).attr('height', ph);

  // grid + tick labels
  const xa = g.append('g')
    .attr('transform', `translate(0,${ph})`)
    .call(d3.axisBottom(x).tickValues(xTicks).tickFormat(d3.format('.1f')).tickSize(-ph).tickPadding(11));
  const ya = g.append('g')
    .call(d3.axisLeft(y).tickValues(yTicks).tickFormat(d3.format('.1f')).tickSize(-pw).tickPadding(9.5));
  [xa, ya].forEach(a => {
    a.attr('font-size', 12.8).attr('font-family', 'DejaVu Sans');
    a.select('.domain').remove();
    a.selectAll('line').attr('stroke', gridColor).attr('stroke-width', 1.25);
    a.selectAll('text').attr('fill', textColor);
  });

  const plot = g.append('g').attr('clip-path', `url(#clip${k})`);
  const series = [
    { runs: baseline, color: blue },
    { runs: panelRuns[k], color: orange }
  ];
  series.forEach(sr => { sr.st = stats(sr.runs); });

  // bands sit beneath every line
  series.forEach(sr => {
    plot.append('path').datum(sr.st)
      .attr('d', area)
      .attr('fill', sr.color)
      .attr('fill-opacity', 0.5);
  });

  series.forEach(sr => {
    sr.runs.forEach(run => {
      const pts = steps.map((s, i) => [s, run[i]]).filter(d => d[1] != null);
      plot.append('path').datum(pts)
        .attr('d', line)
        .attr('fill', 'none')
        .attr('stroke', sr.color)
        .attr('stroke-width', 1.1)
        .attr('stroke-linejoin', 'round');
    });
    const med = sr.st.map(d => [d.s, d.mid]);
    plot.append('path').datum(med)
      .attr('d', line)
      .attr('fill', 'none')
      .attr('stroke', '#000')
      .attr('stroke-width', 4.3)
      .attr('stroke-linejoin', 'round');
    plot.append('path').datum(med)
      .attr('d', line)
      .attr('fill', 'none')
      .attr('stroke', sr.color)
      .attr('stroke-width', 2.3)
      .attr('stroke-linejoin', 'round');
  });

  // spines
  g.append('rect')
    .attr('width', pw).attr('height', ph)
    .attr('fill', 'none')
    .attr('stroke', gridColor)
    .attr('stroke-width', 1.25);

  // axis labels
  g.append('text')
    .attr('x', pw / 2).attr('y', ph + 39)
    .attr('text-anchor', 'middle')
    .attr('font-size', 14.6)
    .attr('fill', textColor)
    .text('Inner problems trained (millions)');
  g.append('text')
    .attr('transform', `translate(-41,${ph / 2}) rotate(-90)`)
    .attr('text-anchor', 'middle')
    .attr('font-size', 14.6)
    .attr('fill', textColor)
    .text('Outer objective');

  // legend
  const labels = [`Baseline N=${baseline.length}`, `${name} N=${panelRuns[k].length}`];
  const lg = g.append('g');
  const box = lg.append('rect');
  const texts = labels.map(t => lg.append('text')
    .attr('font-size', 17)
    .attr('fill', textColor)
    .text(t));
  const tw = d3.max(texts, t => t.node().getComputedTextLength());
  const bw = 55 + tw + 8, bh = 56;
  const bx = pw - 8.5 - bw, by = 8.5;
  box.attr('x', bx).attr('y', by).attr('width', bw).attr('height', bh)
    .attr('rx', 3.5)
    .attr('fill', '#fff').attr('fill-opacity', 0.8)
    .attr('stroke', '#cccccc').attr('stroke-opacity', 0.8).attr('stroke-width', 1);
  [blue, orange].forEach((col, j) => {
    const cy = by + 14 + j * 26;
    lg.append('line')
      .attr('x1', bx + 6.5).attr('x2', bx + 41.5)
      .attr('y1', cy).attr('y2', cy)
      .attr('stroke', col).attr('stroke-width', 2.3);
    texts[j].attr('x', bx + 55).attr('y', cy + 6.3);
  });
});

// sanity check on hand-entered series lengths
const bad = [];
[baseline, ...panelRuns].forEach((runs, k) => runs.forEach((r, j) => {
  if (r.length !== steps.length) bad.push(`${k}:${j}:${r.length}`);
}));
if (bad.length) throw new Error('length mismatch ' + bad.join(' '));
</script>
</body>
</html>
